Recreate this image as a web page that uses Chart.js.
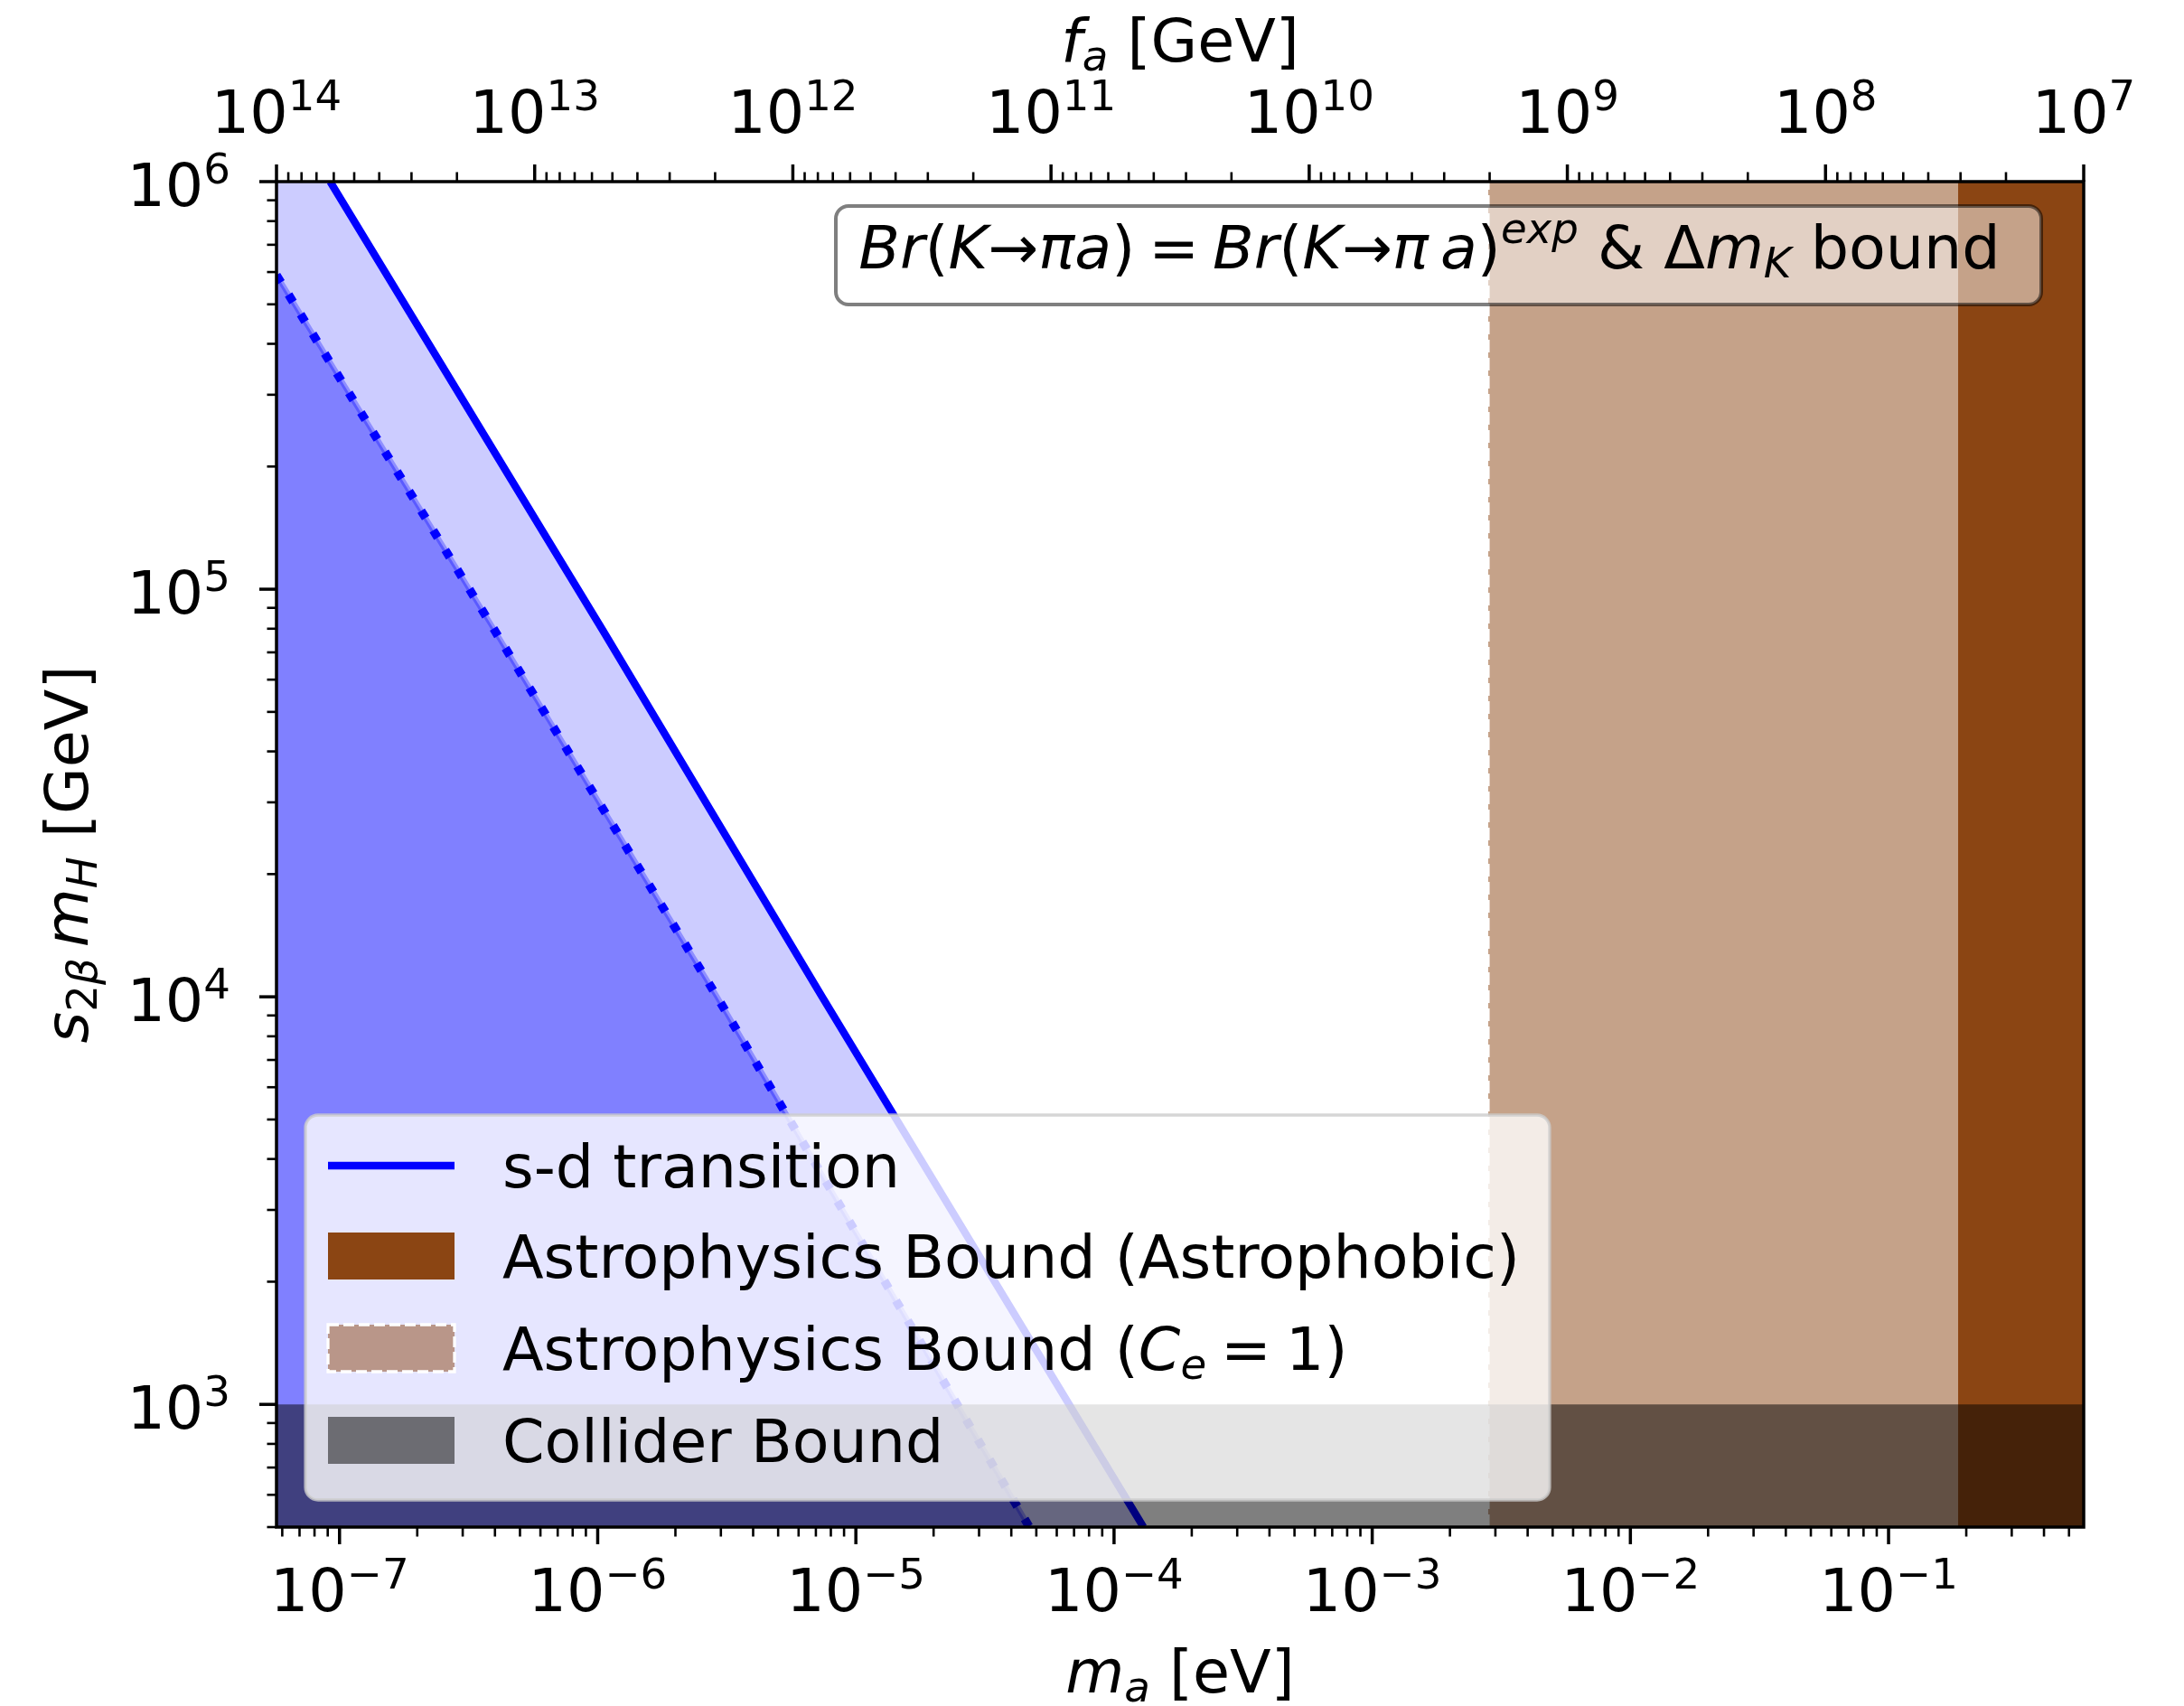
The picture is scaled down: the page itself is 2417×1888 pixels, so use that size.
<!DOCTYPE html>
<html>
<head>
<meta charset="utf-8">
<script src="https://cdn.jsdelivr.net/npm/chart.js@4/dist/chart.umd.min.js"></script>
<style>
html, body { margin: 0; padding: 0; background: #fff; overflow: hidden; }
canvas { display: block; }
</style>
</head>
<body>
<canvas id="axionChart" width="2417" height="1888"></canvas>
<script>
// axis limits
const massRange = [5.7e-8, 0.57];     // m_a [eV]
const faRange = [1e7, 1e14];          // f_a [GeV] (top axis, reversed)
const scaleRange = [500, 1e6];        // s_2b m_H [GeV]

// s-d transition bound (solid) and its dotted companion
const sdMass = [9.2e-8, 1.05e-6, 7.4e-6, 1.3e-4];
const sdScale = [1e6, 7.9e4, 1.0e4, 500];
const sdDotMass = [5.7e-8, 4.0e-7, 2.9e-6, 4.7e-5];
const sdDotScale = [5.9e5, 7.9e4, 1.0e4, 500];

// excluded bands
const astroCeMass = 2.81e-3;     // C_e = 1 bound starts here
const astrophobicMass = 0.186;   // astrophobic bound starts here
const colliderScale = 1000;      // collider bound below this

// tick labels (powers of ten)
const bottomTickExps = [-7, -6, -5, -4, -3, -2, -1];
const topTickExps = [14, 13, 12, 11, 10, 9, 8, 7];
const leftTickExps = [3, 4, 5, 6];

const legendLabels = ['s-d transition', 'Astrophysics Bound (Astrophobic)', 'Astrophysics Bound (C_e = 1)', 'Collider Bound'];

const FS = 66.7;
const FAM = '"DejaVu Sans"';

function pts(xs, ys) {
    return xs.map(function (x, i) { return { x: x, y: ys[i] }; });
}

function segFont(s) {
    return (s.it ? 'italic ' : '') + (FS * (s.s || 1)).toFixed(1) + 'px ' + FAM;
}

function drawRich(ctx, segs, x, y, align) {
    let total = 0;
    const widths = segs.map(function (s) {
        if (s.gap) return s.gap;
        ctx.font = segFont(s);
        return ctx.measureText(s.t).width;
    });
    widths.forEach(function (w) { total += w; });
    let cx = x;
    if (align === 'center') cx = x - total / 2;
    if (align === 'right') cx = x - total;
    ctx.textAlign = 'left';
    ctx.textBaseline = 'alphabetic';
    segs.forEach(function (s, i) {
        if (!s.gap) {
            ctx.font = segFont(s);
            ctx.fillText(s.t, cx, y + (s.dy || 0));
        }
        cx += widths[i];
    });
    return total;
}

function powLabel(e) {
    const txt = (e < 0 ? '\u2212' : '') + Math.abs(e);
    return [{ t: '10' }, { t: txt, s: 0.7, dy: -25 }];
}

function logTicks(min, max) {
    const out = [];
    for (let e = Math.floor(Math.log10(min)); e <= Math.ceil(Math.log10(max)); e++) {
        for (let k = 1; k < 10; k++) {
            const v = k * Math.pow(10, e);
            if (v >= min * 0.999999 && v <= max * 1.000001) out.push({ v: v, major: k === 1 });
        }
    }
    return out;
}

function roundRect(ctx, x, y, w, h, r) {
    ctx.beginPath();
    ctx.moveTo(x + r, y);
    ctx.lineTo(x + w - r, y);
    ctx.arcTo(x + w, y, x + w, y + r, r);
    ctx.lineTo(x + w, y + h - r);
    ctx.arcTo(x + w, y + h, x + w - r, y + h, r);
    ctx.lineTo(x + r, y + h);
    ctx.arcTo(x, y + h, x, y + h - r, r);
    ctx.lineTo(x, y + r);
    ctx.arcTo(x, y, x + r, y, r);
    ctx.closePath();
}

const mplAxes = {
    id: 'mplAxes',
    afterDatasetsDraw: function (chart) {
        const ctx = chart.ctx;
        const a = chart.chartArea;
        const xs = chart.scales.x, x2 = chart.scales.x2, ys = chart.scales.y;
        ctx.save();
        ctx.fillStyle = '#000';
        ctx.strokeStyle = '#000';

        // spines
        ctx.lineWidth = 3.5;
        ctx.strokeRect(a.left, a.top, a.right - a.left, a.bottom - a.top);

        // tick marks
        ctx.lineCap = 'butt';
        function tick(x0, y0, x1, y1, major) {
            ctx.lineWidth = major ? 3.5 : 2.6;
            ctx.beginPath();
            ctx.moveTo(x0, y0);
            ctx.lineTo(x1, y1);
            ctx.stroke();
        }
        logTicks(massRange[0], massRange[1]).forEach(function (t) {
            const px = xs.getPixelForValue(t.v);
            tick(px, a.bottom, px, a.bottom + (t.major ? 19 : 10.5), t.major);
        });
        logTicks(faRange[0], faRange[1]).forEach(function (t) {
            const px = x2.getPixelForValue(t.v);
            tick(px, a.top, px, a.top - (t.major ? 19 : 10.5), t.major);
        });
        logTicks(scaleRange[0], scaleRange[1]).forEach(function (t) {
            const py = ys.getPixelForValue(t.v);
            tick(a.left, py, a.left - (t.major ? 19 : 10.5), py, t.major);
        });

        // tick labels
        bottomTickExps.forEach(function (e) {
            drawRich(ctx, powLabel(e), xs.getPixelForValue(Math.pow(10, e)), a.bottom + 93, 'center');
        });
        topTickExps.forEach(function (e) {
            drawRich(ctx, powLabel(e), x2.getPixelForValue(Math.pow(10, e)), a.top - 54, 'center');
        });
        leftTickExps.forEach(function (e) {
            drawRich(ctx, powLabel(e), a.left - 51, ys.getPixelForValue(Math.pow(10, e)) + 27, 'right');
        });

        // axis titles
        const midX = (a.left + a.right) / 2;
        drawRich(ctx, [{ t: 'm', it: 1 }, { t: 'a', it: 1, s: 0.7, dy: 10 }, { t: ' [eV]' }], midX, a.bottom + 183, 'center');
        drawRich(ctx, [{ t: 'f', it: 1 }, { t: 'a', it: 1, s: 0.7, dy: 10 }, { t: ' [GeV]' }], midX, a.top - 133, 'center');
        ctx.save();
        ctx.translate(97, (a.top + a.bottom) / 2);
        ctx.rotate(-Math.PI / 2);
        drawRich(ctx, [
            { t: 's', it: 1 }, { t: '2', s: 0.7, dy: 10 }, { t: '\u03b2', it: 1, s: 0.7, dy: 10 },
            { gap: 12 }, { t: 'm', it: 1 }, { t: 'H', it: 1, s: 0.7, dy: 10 }, { t: ' [GeV]' }
        ], 0, 0, 'center');
        ctx.restore();

        // annotation box
        roundRect(ctx, 925, 228, 1334, 109, 14);
        ctx.fillStyle = 'rgba(255,255,255,0.5)';
        ctx.fill();
        ctx.lineWidth = 4;
        ctx.strokeStyle = 'rgba(0,0,0,0.5)';
        ctx.stroke();
        ctx.fillStyle = '#000';
        drawRich(ctx, [
            { t: 'Br', it: 1 }, { t: '(' }, { t: 'K', it: 1 }, { t: '\u2192' }, { t: '\u03c0a', it: 1 }, { t: ')' },
            { gap: 15 }, { t: '=' }, { gap: 15 },
            { t: 'Br', it: 1 }, { t: '(' }, { t: 'K', it: 1 }, { t: '\u2192' }, { t: '\u03c0', it: 1 }, { gap: 13 },
            { t: 'a', it: 1 }, { t: ')' }, { t: 'exp', it: 1, s: 0.7, dy: -28 },
            { t: ' & \u0394' }, { t: 'm', it: 1 }, { t: 'K', it: 1, s: 0.7, dy: 10 }, { t: ' bound' }
        ], 1582, 297, 'center');

        // legend
        roundRect(ctx, 338, 1234, 1377, 426, 14);
        ctx.fillStyle = 'rgba(255,255,255,0.8)';
        ctx.fill();
        ctx.lineWidth = 3.3;
        ctx.strokeStyle = 'rgba(204,204,204,0.8)';
        ctx.stroke();

        const rowY = [1290, 1390, 1492, 1594];
        const hx = 363, hw = 140, hh = 52;
        // line handle
        ctx.strokeStyle = '#0000ff';
        ctx.lineWidth = 8.3;
        ctx.beginPath();
        ctx.moveTo(hx, rowY[0]);
        ctx.lineTo(hx + hw, rowY[0]);
        ctx.stroke();
        // astrophobic patch
        ctx.fillStyle = '#8b4513';
        ctx.fillRect(hx, rowY[1] - hh / 2, hw, hh);
        // C_e = 1 patch
        ctx.fillStyle = 'rgba(139,69,19,0.5)';
        ctx.fillRect(hx, rowY[2] - hh / 2, hw, hh);
        ctx.strokeStyle = '#fff';
        ctx.lineWidth = 3.3;
        ctx.setLineDash([12, 5]);
        ctx.strokeRect(hx, rowY[2] - hh / 2, hw, hh);
        ctx.setLineDash([]);
        // collider patch
        ctx.fillStyle = 'rgba(0,0,0,0.5)';
        ctx.fillRect(hx, rowY[3] - hh / 2, hw, hh);

        ctx.fillStyle = '#000';
        const tx = 556;
        drawRich(ctx, [{ t: legendLabels[0] }], tx, rowY[0] + 24, 'left');
        drawRich(ctx, [{ t: legendLabels[1] }], tx, rowY[1] + 24, 'left');
        drawRich(ctx, [
            { t: 'Astrophysics Bound (' }, { t: 'C', it: 1 }, { t: 'e', it: 1, s: 0.7, dy: 10 },
            { gap: 16 }, { t: '=' }, { gap: 16 }, { t: '1)' }
        ], tx, rowY[2] + 24, 'left');
        drawRich(ctx, [{ t: legendLabels[3] }], tx, rowY[3] + 24, 'left');

        ctx.restore();
    }
};

const ctx = document.getElementById('axionChart').getContext('2d');

new Chart(ctx, {
    type: 'line',
    data: {
        datasets: [
            {   // tan: C_e = 1 astrophysics bound
                data: pts([astroCeMass, massRange[1]], [scaleRange[1], scaleRange[1]]),
                fill: 'start', backgroundColor: 'rgba(139,69,19,0.5)', borderColor: 'transparent',
                borderWidth: 0, order: 10
            },
            {   // astrophobic bound
                data: pts([astrophobicMass, massRange[1]], [scaleRange[1], scaleRange[1]]),
                fill: 'start', backgroundColor: '#8b4513', borderColor: 'transparent',
                borderWidth: 0, order: 9
            },
            {   // dashed white edge of tan band
                data: pts([astroCeMass, astroCeMass], [scaleRange[0], scaleRange[1]]),
                fill: false, borderColor: '#ffffff', borderWidth: 3.5, borderDash: [14, 6], order: 8
            },
            {   // light blue region left of the s-d line
                data: pts([massRange[0]].concat(sdMass), [scaleRange[1]].concat(sdScale)),
                fill: 'start', backgroundColor: 'rgba(0,0,255,0.2)', borderColor: 'transparent',
                borderWidth: 0, order: 7
            },
            {   // darker region left of the dotted line
                data: pts(sdDotMass, sdDotScale),
                fill: 'start', backgroundColor: 'rgba(0,0,255,0.375)', borderColor: 'rgba(0,0,255,0.3)',
                borderWidth: 6, order: 6
            },
            {
                data: pts(sdDotMass, sdDotScale),
                fill: false, borderColor: '#0000ff', borderWidth: 9.5, borderDash: [9.5, 16],
                borderCapStyle: 'butt', order: 5
            },
            {
                data: pts(sdMass, sdScale),
                fill: false, borderColor: '#0000ff', borderWidth: 8.3, order: 4
            },
            {   // collider bound
                data: pts(massRange, [colliderScale, colliderScale]),
                fill: 'start', backgroundColor: 'rgba(0,0,0,0.5)', borderColor: 'transparent',
                borderWidth: 0, order: 3
            }
        ]
    },
    options: {
        responsive: false,
        animation: false,
        devicePixelRatio: 1,
        clip: 0,
        elements: { point: { radius: 0 }, line: { tension: 0 } },
        layout: { padding: { left: 306, top: 201, right: 111, bottom: 198 } },
        plugins: { legend: { display: false }, tooltip: { enabled: false } },
        scales: {
            x: { type: 'logarithmic', min: massRange[0], max: massRange[1], display: false },
            x2: { type: 'logarithmic', axis: 'x', position: 'top', reverse: true, min: faRange[0], max: faRange[1], display: false },
            y: { type: 'logarithmic', min: scaleRange[0], max: scaleRange[1], display: false }
        }
    },
    plugins: [mplAxes]
});
</script>
</body>
</html>
